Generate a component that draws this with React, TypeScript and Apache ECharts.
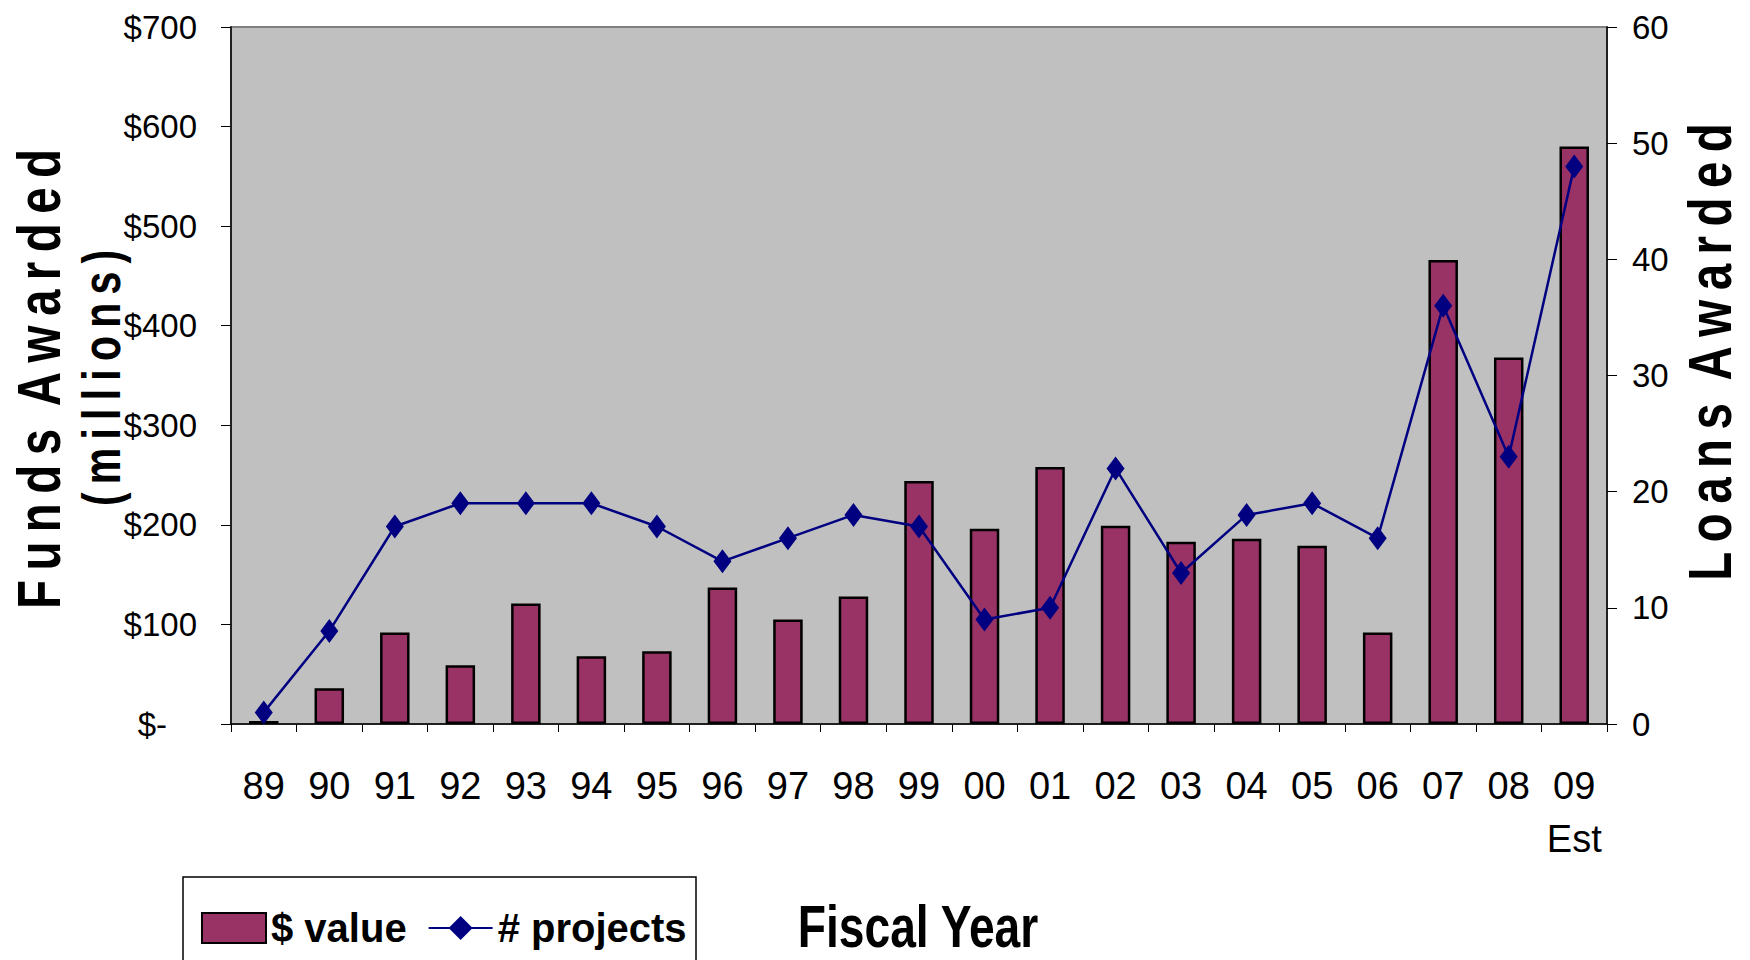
import React, { useEffect, useRef } from "react";
import * as echarts from "echarts";

const categories = ["89", "90", "91", "92", "93", "94", "95", "96", "97", "98", "99", "00", "01", "02", "03", "04", "05", "06", "07", "08", "09"];
const lastLabelNote = "Est";
const fundsAwarded = [3, 36, 92, 59, 121, 68, 73, 137, 105, 128, 244, 196, 258, 199, 183, 186, 179, 92, 466, 368, 580];
const loansAwarded = [1, 8, 17, 19, 19, 19, 17, 14, 16, 18, 17, 9, 10, 22, 13, 18, 19, 16, 36, 23, 48];
const seriesNames = ["$ value", "# projects"];
const leftTitle = "Funds Awarded";
const leftSubtitle = "(millions)";
const rightTitle = "Loans Awarded";
const bottomTitle = "Fiscal Year";

const SANS = "'Liberation Sans', Arial, sans-serif";

const spaced = (s: string) =>
  s
    .split(" ")
    .map((w) => w.split("").join("\u2009"))
    .join(" \u2009");

export default function App() {
  const ref = useRef<HTMLDivElement>(null);
  useEffect(() => {
    if (!ref.current) return;
    const chart = echarts.init(ref.current, null, { renderer: "svg" });
    const titleStyle = (text: string, font: string) => ({
      text,
      font,
      fill: "#000",
      textAlign: "center",
      textVerticalAlign: "middle",
      align: "center",
      verticalAlign: "middle",
    });
    chart.setOption({
      animation: false,
      backgroundColor: "#ffffff",
      grid: {
        left: 231,
        right: 143,
        top: 27,
        bottom: 236,
        show: true,
        backgroundColor: "#C0C0C0",
        borderColor: "#808080",
        borderWidth: 2,
      },
      legend: {
        left: 196,
        top: 903,
        itemWidth: 64,
        itemHeight: 30,
        itemGap: 21,
        textStyle: { fontSize: 40, fontWeight: "bold", fontFamily: SANS, color: "#000" },
        data: [
          { name: seriesNames[0], icon: "rect" },
          { name: seriesNames[1] },
        ],
      },
      xAxis: {
        type: "category",
        data: categories,
        boundaryGap: true,
        axisLine: { lineStyle: { color: "#000", width: 1.5 } },
        axisTick: { show: true, length: 8, lineStyle: { color: "#000" } },
        axisLabel: {
          interval: 0,
          margin: 35,
          fontSize: 38,
          lineHeight: 53,
          fontFamily: SANS,
          color: "#000",
          formatter: (v: string, i: number) => (i === categories.length - 1 ? v + "\n" + lastLabelNote : v),
        },
      },
      yAxis: [
        {
          type: "value",
          min: 0,
          max: 700,
          interval: 100,
          position: "left",
          axisLine: { show: true, lineStyle: { color: "#000", width: 1.5 } },
          axisTick: { show: true, length: 10, lineStyle: { color: "#000" } },
          splitLine: { show: false },
          axisLabel: {
            margin: 34,
            fontSize: 33,
            fontFamily: SANS,
            color: "#000",
            formatter: (v: number) => (v === 0 ? "{z|$-}" : "$" + v),
            rich: { z: { fontSize: 33, fontFamily: SANS, color: "#000", padding: [0, 30, 0, 0] } },
          },
        },
        {
          type: "value",
          min: 0,
          max: 60,
          interval: 10,
          position: "right",
          axisLine: { show: true, lineStyle: { color: "#000", width: 1.5 } },
          axisTick: { show: true, length: 10, lineStyle: { color: "#000" } },
          splitLine: { show: false },
          axisLabel: { margin: 25, fontSize: 33, fontFamily: SANS, color: "#000" },
        },
      ],
      series: [
        {
          name: seriesNames[0],
          type: "bar",
          yAxisIndex: 0,
          data: fundsAwarded,
          barWidth: "45%",
          itemStyle: { color: "#993366", borderColor: "#000", borderWidth: 2.5 },
        },
        {
          name: seriesNames[1],
          type: "line",
          yAxisIndex: 1,
          data: loansAwarded,
          symbol: "diamond",
          symbolSize: [18, 24],
          itemStyle: { color: "#000080" },
          lineStyle: { color: "#000080", width: 2.5 },
        },
      ],
      graphic: [
        {
          type: "text",
          x: 39,
          y: 379,
          rotation: Math.PI / 2,
          scaleX: 0.765,
          style: titleStyle(spaced(leftTitle), "bold 62px " + SANS),
        },
        {
          type: "text",
          x: 101,
          y: 378,
          rotation: Math.PI / 2,
          scaleX: 0.76,
          style: titleStyle(spaced(leftSubtitle), "bold 54px " + SANS),
        },
        {
          type: "text",
          x: 1710,
          y: 352,
          rotation: Math.PI / 2,
          scaleX: 0.765,
          style: titleStyle(spaced(rightTitle), "bold 62px " + SANS),
        },
        {
          type: "text",
          x: 918,
          y: 926,
          scaleX: 0.77,
          style: titleStyle(bottomTitle, "bold 60px " + SANS),
        },
        {
          type: "rect",
          shape: { x: 183, y: 877, width: 513, height: 110 },
          style: { fill: "none", stroke: "#000", lineWidth: 1.5 },
          z: -1,
        },
      ],
    });
    return () => chart.dispose();
  }, []);
  return <div ref={ref} style={{ position: "absolute", left: 0, top: 0, width: 1750, height: 960 }} />;
}
